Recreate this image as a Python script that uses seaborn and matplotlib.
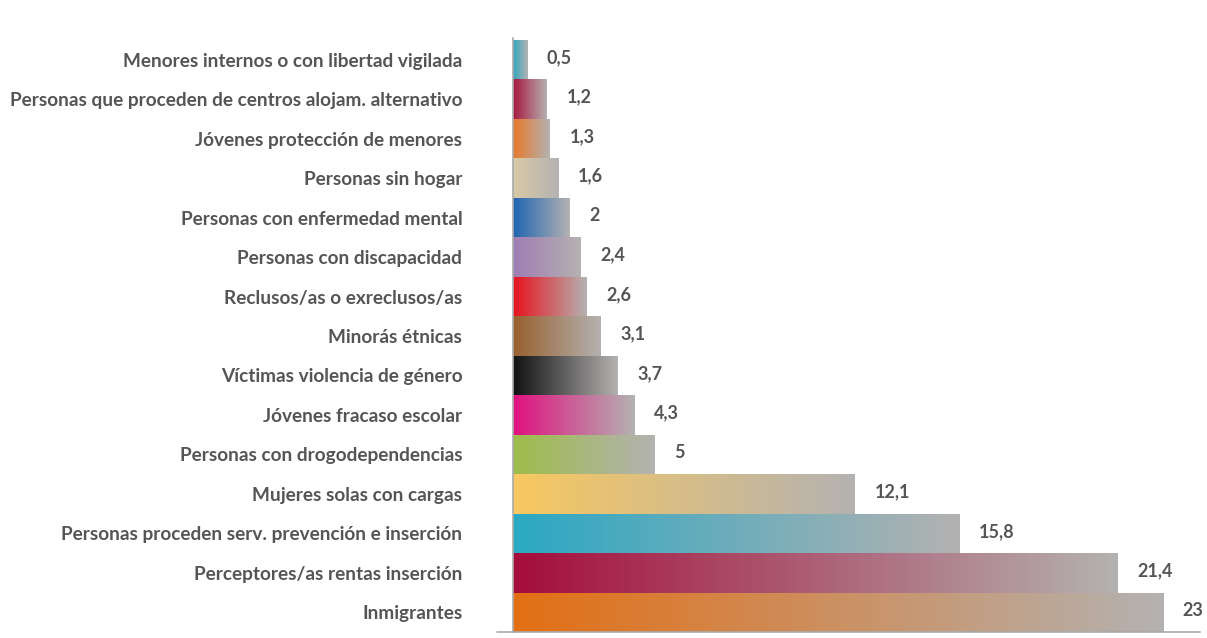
import numpy as np
import pandas as pd
import matplotlib.pyplot as plt
import seaborn as sns
from matplotlib.colors import LinearSegmentedColormap

sns.set_style("white")
plt.rcParams['font.family'] = ['Lato', 'DejaVu Sans']

categories = [
    "Menores internos o con libertad vigilada",
    "Personas que proceden de centros alojam. alternativo",
    "Jóvenes protección de menores",
    "Personas sin hogar",
    "Personas con enfermedad mental",
    "Personas con discapacidad",
    "Reclusos/as o exreclusos/as",
    "Minorás étnicas",
    "Víctimas violencia de género",
    "Jóvenes fracaso escolar",
    "Personas con drogodependencias",
    "Mujeres solas con cargas",
    "Personas proceden serv. prevención e inserción",
    "Perceptores/as rentas inserción",
    "Inmigrantes",
]
values = [0.5, 1.2, 1.3, 1.6, 2, 2.4, 2.6, 3.1, 3.7, 4.3, 5, 12.1, 15.8, 21.4, 23]
value_labels = ["0,5", "1,2", "1,3", "1,6", "2", "2,4", "2,6", "3,1", "3,7",
                "4,3", "5", "12,1", "15,8", "21,4", "23"]
start_colors = ["#2fa8bf", "#a8173f", "#e8792a", "#d9c9a6", "#1f64b0",
                "#a07db4", "#e8121f", "#98602e", "#111111", "#e0117f",
                "#9dbd4a", "#f8c860", "#2aa8c4", "#a50d3c", "#e36f14"]
end_color = "#b4b2b1"

df = pd.DataFrame({"categoria": categories, "valor": values})

fig = plt.figure(figsize=(12.07, 6.38), dpi=100)
ax = fig.add_axes([0.425, 0.0094, 0.569, 0.931])

sns.barplot(data=df, x="valor", y="categoria", hue="categoria",
            palette=start_colors, width=1.0, legend=False, ax=ax,
            saturation=1)

# gradient fill clipped to each bar
grad = np.linspace(0, 1, 256).reshape(1, -1)
for patch, c in zip(ax.patches, start_colors):
    x0, y0 = patch.get_x(), patch.get_y()
    w, h = patch.get_width(), patch.get_height()
    cmap = LinearSegmentedColormap.from_list("g", [c, end_color])
    im = ax.imshow(grad, cmap=cmap, aspect="auto",
                   extent=[x0, x0 + w, y0 + h, y0], zorder=2)
    im.set_clip_path(patch)
    patch.set_edgecolor("none")

for i, (v, lab) in enumerate(zip(values, value_labels)):
    ax.text(v + 0.7, i - 0.05, lab, va="center", ha="left",
            fontsize=13, fontweight="bold", color="#555555")

ax.set_xlim(0, 24.3)
ax.set_ylim(14.5, -0.55)
ax.set_xlabel("")
ax.set_ylabel("")
ax.set_xticks([])
ax.tick_params(axis="y", length=0, pad=36.5)
for t in ax.get_yticklabels():
    t.set_fontsize(13.7)
    t.set_fontweight("bold")
    t.set_color("#555555")
    t.set_y(t.get_position()[1])

sns.despine(ax=ax, top=True, right=True)
for s in ["left", "bottom"]:
    ax.spines[s].set_color("#aaaaaa")
    ax.spines[s].set_linewidth(1.2)
ax.plot([-0.55, 0], [14.5, 14.5], color="#aaaaaa", lw=1.2, clip_on=False)

fig.savefig("out.png", dpi=100)
